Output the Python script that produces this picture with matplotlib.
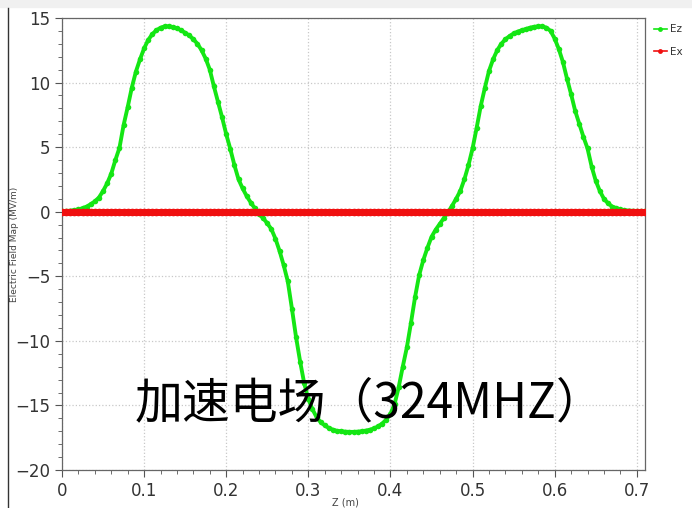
from matplotlib import pyplot as plt
from matplotlib.lines import Line2D
import numpy as np

plt.rcParams['font.family'] = ['DejaVu Sans']

# posiciones a lo largo del eje (m), paso de 5 mm
z = np.round(np.arange(0, 0.7101, 0.005), 3)

# campo longitudinal Ez (MV/m)
Ez = [0.05, 0.06, 0.08, 0.12, 0.18, 0.27, 0.40, 0.58, 0.80, 1.10,
      1.60, 2.20, 2.95, 4.00, 4.95, 6.70, 8.10, 9.60, 10.85, 11.80,
      12.65, 13.30, 13.75, 14.05, 14.25, 14.35, 14.35, 14.30, 14.20, 14.05,
      13.85, 13.65, 13.35, 13.00, 12.50, 11.85, 11.00, 9.70, 8.50, 7.30,
      6.00, 4.85, 3.60, 2.50, 1.80, 1.20, 0.70, 0.25, -0.20, -0.50,
      -0.90, -1.35, -2.10, -3.05, -4.15, -5.40, -7.50, -9.70, -11.60, -13.30,
      -14.50, -15.30, -15.90, -16.30, -16.55, -16.75, -16.88, -16.97, -17.00, -17.03,
      -17.05, -17.05, -17.03, -17.00, -16.95, -16.88, -16.78, -16.62, -16.40, -16.10,
      -15.65, -14.90, -13.60, -12.00, -10.50, -8.60, -6.60, -4.90, -3.75, -2.80,
      -1.95, -1.40, -0.95, -0.50, -0.05, 0.45, 1.00, 1.60, 2.50, 3.60,
      4.90, 6.50, 8.20, 9.60, 10.90, 11.80, 12.50, 13.00, 13.35, 13.60,
      13.80, 13.95, 14.05, 14.15, 14.25, 14.32, 14.35, 14.35, 14.25, 14.00,
      13.40, 12.60, 11.60, 10.30, 9.10, 7.80, 6.80, 5.80, 4.90, 3.50,
      2.40, 1.60, 1.00, 0.65, 0.40, 0.28, 0.18, 0.12, 0.09, 0.07,
      0.06, 0.05, 0.05]

# campo transversal Ex (MV/m)
Ex = [0.0] * len(Ez)

xticks = [0, 0.1, 0.2, 0.3, 0.4, 0.5, 0.6, 0.7]
yticks = [-20, -15, -10, -5, 0, 5, 10, 15]

verde = '#14e614'
rojo = '#f01010'

fig = plt.figure(figsize=(6.92, 5.08), dpi=100)
ax = fig.add_axes([62/692, 1-470/508, 583/692, 452/508])

ax.plot(z, Ez, color=verde, lw=2.8, marker='o', ms=4, mew=0, zorder=3)
ax.plot(z, Ex, color=rojo, lw=5, marker='o', ms=5.5, mew=0, zorder=4)

ax.set_xlim(0, 0.71)
ax.set_ylim(-20, 15)
ax.set_xticks(xticks)
ax.set_xticklabels(['0', '0.1', '0.2', '0.3', '0.4', '0.5', '0.6', '0.7'])
ax.set_yticks(yticks)
ax.set_xticks(np.arange(0, 0.71, 0.02), minor=True)
ax.set_yticks(np.arange(-20, 15.1, 1), minor=True)
ax.tick_params(which='major', direction='out', length=5, width=0.8,
               colors='#555555', labelcolor='#333333', labelsize=12)
ax.tick_params(which='minor', direction='out', length=3, width=0.6, colors='#555555')
ax.grid(which='major', color='#c8c8c8', linestyle=':', linewidth=0.9)
for s in ax.spines.values():
    s.set_color('#666666')
    s.set_linewidth(0.9)

ax.set_xlabel('Z (m)', fontsize=7, color='#444444')
ax.xaxis.set_label_coords(0.486, -0.06)
ax.set_ylabel('Electric Field Map (MV/m)', fontsize=6.5, color='#444444')
ax.yaxis.set_label_coords(-0.074, 0.5)

# leyenda con lineas finas
h = [Line2D([], [], color=verde, lw=1.2, marker='o', ms=3.5, mew=0),
     Line2D([], [], color=rojo, lw=1.2, marker='o', ms=3.5, mew=0)]
ax.legend(h, ['Ez', 'Ex'], loc='upper left', bbox_to_anchor=(1.005, 1.0), frameon=False,
          fontsize=7.5, handlelength=1.2, handletextpad=0.35, labelspacing=1.2,
          borderaxespad=0.3, borderpad=0.3, labelcolor='#333333')

# linea del borde de la diapositiva
fig.add_artist(Line2D([8/692, 8/692], [0, 1-8/508], color='#333333', lw=1.0))
fig.patches.append(plt.Rectangle((0, 1-7/508), 1, 7/508, transform=fig.transFigure,
                                 color='#f0f0f0', zorder=0))

fig.text(135/692, 1-403/508, '加速电场（324MHZ）', fontsize=34.5, color='black',
         ha='left', va='center', family=['Noto Sans CJK SC', 'DejaVu Sans'])

plt.savefig('out.png', dpi=100)
